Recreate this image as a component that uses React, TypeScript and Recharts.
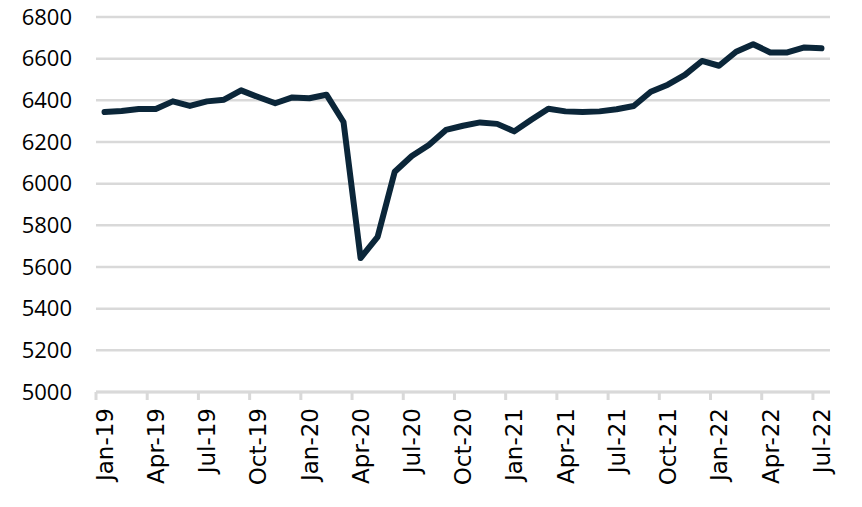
import { LineChart, Line, XAxis, YAxis, CartesianGrid } from "recharts";

const months = [
  "Jan-19", "Feb-19", "Mar-19", "Apr-19", "May-19", "Jun-19", "Jul-19", "Aug-19", "Sep-19", "Oct-19", "Nov-19", "Dec-19",
  "Jan-20", "Feb-20", "Mar-20", "Apr-20", "May-20", "Jun-20", "Jul-20", "Aug-20", "Sep-20", "Oct-20", "Nov-20", "Dec-20",
  "Jan-21", "Feb-21", "Mar-21", "Apr-21", "May-21", "Jun-21", "Jul-21", "Aug-21", "Sep-21", "Oct-21", "Nov-21", "Dec-21",
  "Jan-22", "Feb-22", "Mar-22", "Apr-22", "May-22", "Jun-22", "Jul-22",
];

const values = [
  6344, 6349, 6358, 6358, 6395, 6373, 6395, 6403, 6448, 6416, 6386, 6414,
  6410, 6427, 6296, 5643, 5745, 6057, 6133, 6186, 6258, 6278, 6294, 6287,
  6251, 6307, 6360, 6347, 6344, 6347, 6357, 6373, 6441, 6475, 6522, 6589,
  6566, 6633, 6669, 6630, 6630, 6654, 6650,
];

const yTicks = [5000, 5200, 5400, 5600, 5800, 6000, 6200, 6400, 6600, 6800];

const data = months.map((month, i) => ({ month, value: values[i] }));

const WIDTH = 862;
const HEIGHT = 507;
const LEFT = 96;
const RIGHT = 32;
const FONT = "'Open Sans', 'Noto Sans', sans-serif";
const X_FONT = "'DejaVu Sans', Verdana, sans-serif";
const GRID = "#d9d9d9";

// ticks sit on the month boundaries, labels in the middle of each month
const halfBand = (WIDTH - LEFT - RIGHT) / months.length / 2;

function MonthTick(props: any) {
  const { x, y, payload } = props;
  const axisY = y - 16;
  return (
    <g>
      <line x1={x - halfBand} x2={x - halfBand} y1={axisY} y2={axisY + 8} stroke={GRID} strokeWidth={3} />
      <text
        x={x}
        y={y}
        dy="0.36em"
        transform={`rotate(-90, ${x}, ${y})`}
        textAnchor="end"
        fill="#000"
        fontSize={23}
        fontFamily={X_FONT}
      >
        {payload.value}
      </text>
    </g>
  );
}

export default function App() {
  return (
    <div style={{ position: "absolute", left: 0, top: 0, background: "#fff" }}>
      <LineChart width={WIDTH} height={HEIGHT} data={data} margin={{ top: 17, right: RIGHT, bottom: 0, left: 0 }}>
        <CartesianGrid vertical={false} stroke={GRID} strokeWidth={2.5} />
        <XAxis
          dataKey="month"
          scale="band"
          interval={2}
          height={115}
          tickLine={false}
          tickSize={8}
          tickMargin={8}
          axisLine={{ stroke: GRID, strokeWidth: 3 }}
          tick={<MonthTick />}
        />
        <YAxis
          domain={[5000, 6800]}
          ticks={yTicks}
          width={LEFT}
          axisLine={false}
          tickLine={false}
          tickSize={0}
          tickMargin={24}
          tick={{ fill: "#000", fontSize: 22, fontFamily: FONT }}
        />
        <Line
          type="linear"
          dataKey="value"
          stroke="#0b2639"
          strokeWidth={6}
          strokeLinecap="round"
          strokeLinejoin="round"
          dot={false}
          isAnimationActive={false}
        />
      </LineChart>
    </div>
  );
}
